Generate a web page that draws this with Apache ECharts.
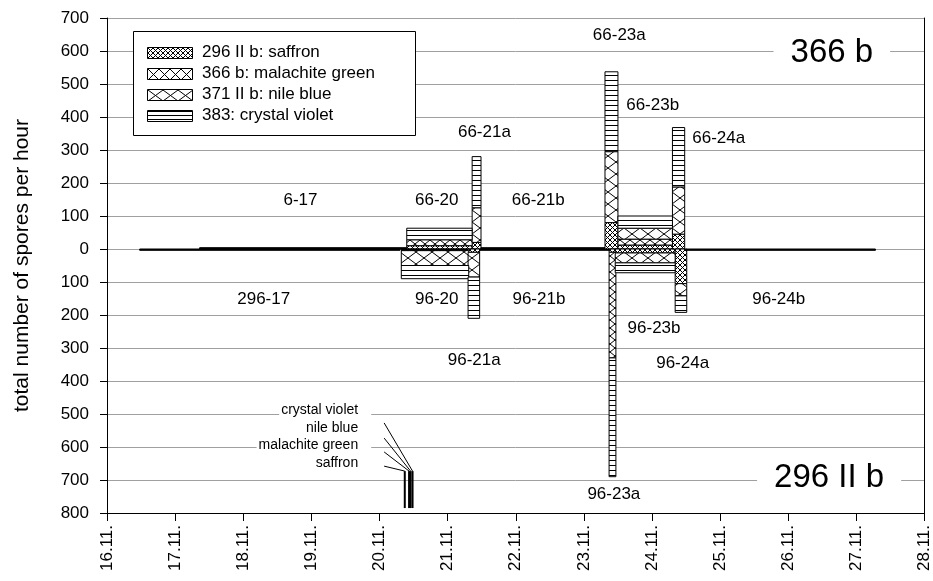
<!DOCTYPE html>
<html>
<head>
<meta charset="utf-8">
<script src="https://cdn.jsdelivr.net/npm/echarts@6/dist/echarts.min.js"></script>
<style>html,body{margin:0;padding:0;background:#fff}#c{width:933px;height:581px}</style>
</head>
<body>
<div id="c"></div>
<script>
// ---------- data ----------
const samples   = ['296-17','6-17','66-20','96-20','66-21a','96-21a','66-21b','96-21b','66-23a','96-23a','66-23b','96-23b','66-24a','96-24a','96-24b'];
const startDay  = [16.48, 17.36, 20.40, 20.32, 21.36, 21.30, 21.49, 21.47, 23.31, 23.37, 23.50, 23.46, 24.30, 24.34, 24.50];
const endDay    = [20.30, 20.40, 21.36, 21.31, 21.49, 21.47, 23.31, 23.37, 23.50, 23.47, 24.30, 24.34, 24.48, 24.51, 27.28];
// positive = 366 b (upper), negative = 296 II b (lower)
const saffron   = [-4, 4, 10,  -5,  20,  -10, 4, -4,  80,  -10, 12, -12,  45, -105, -4];
const malachite = [ 0, 0, 18,   0,   0,    0, 0,  0,   0, -320, 18,   0,   0,    0,  0];
const nileBlue  = [ 0, 0,  0, -45, 105,  -75, 0,  0, 215,    0, 33, -30, 143,  -37,  0];
const crystal   = [ 0, 0, 35, -40, 155, -125, 0,  0, 242, -360, 37, -30, 180,  -50,  0];

const dyeNames  = ['296 II b: saffron','366 b: malachite green','371 II b: nile blue','383: crystal violet'];

const yTicks = [-800,-700,-600,-500,-400,-300,-200,-100,0,100,200,300,400,500,600,700];
const xTickDays = [16,17,18,19,20,21,22,23,24,25,26,27,28];

// sample label positions (day, value)
const labelText  = ['6-17','296-17','66-20','96-20','66-21a','96-21a','66-21b','96-21b','66-23a','96-23a','66-23b','96-23b','66-24a','96-24a','96-24b'];
const labelDay   = [18.84, 18.30, 20.84, 20.84, 21.54, 21.39, 22.33, 22.34, 23.52, 23.44, 24.01, 24.03, 24.98, 24.45, 25.86];
const labelValue = [  148,  -152,   148,  -152,   355,  -336,   148,  -152,   648,  -742,   436,  -239,   336,  -345,  -152];

const titleText  = ['366 b','296 II b'];
const titleDay   = [26.64, 26.60];
const titleValue = [  594,  -694];

// annotation (dye application marks)
const annoText      = ['crystal violet','nile blue','malachite green','saffron'];
const annoTextDay   = 19.878;
const annoTextValue = [-489, -543, -595, -648];
const annoLineStart = [-527, -573, -615, -658];
const annoLineDay   = [20.485, 20.456, 20.434, 20.371];
const annoLineTop   = -673;
const annoLineBottom= -785;
const annoStartDay  = 20.068;

// ---------- patterns ----------
function crossTile(w, h) {
  const c = document.createElement('canvas'); c.width = w; c.height = h;
  const g = c.getContext('2d');
  g.fillStyle = '#fff'; g.fillRect(0, 0, w, h);
  g.strokeStyle = '#000'; g.lineWidth = 1;
  g.beginPath();
  g.moveTo(0, 0); g.lineTo(w, h);
  g.moveTo(w, 0); g.lineTo(0, h);
  g.stroke();
  return {image: c, repeat: 'repeat'};
}
function lineTile(period) {
  const c = document.createElement('canvas'); c.width = 8; c.height = period;
  const g = c.getContext('2d');
  g.fillStyle = '#fff'; g.fillRect(0, 0, 8, period);
  g.fillStyle = '#000'; g.fillRect(0, 0, 8, 1);
  return {image: c, repeat: 'repeat'};
}
const barPatterns = [crossTile(5,5), crossTile(10,8), crossTile(16,12), lineTile(5)];

const FONT = '"Liberation Sans", Arial, sans-serif';

// ---------- series ----------
const dyes = [saffron, malachite, nileBlue, crystal];
const series = dyes.map((vals, k) => {
  const data = [];
  samples.forEach((s, i) => {
    const v = vals[i];
    if (!v) return;
    let base = 0;
    for (let j = 0; j < k; j++) base += dyes[j][i];
    data.push([startDay[i], endDay[i], base, base + v]);
  });
  return {
    type: 'custom', name: dyeNames[k], silent: true,
    encode: {x: [0, 1], y: [2, 3]},
    data: data,
    z: 3 + k,
    renderItem: function (params, api) {
      const a = api.coord([api.value(0), api.value(3)]);
      const b = api.coord([api.value(1), api.value(2)]);
      const h = Math.abs(b[1] - a[1]);
      return {
        type: 'rect',
        shape: {x: Math.min(a[0], b[0]), y: Math.min(a[1], b[1]),
                width: Math.abs(b[0] - a[0]), height: h},
        style: {fill: h < 3 ? '#000' : barPatterns[k], stroke: '#000', lineWidth: 1}
      };
    }
  };
});

series.push({
  type: 'custom', name: 'labels', silent: true, z: 10,
  encode: {x: 0, y: 1},
  data: labelDay.map((d, i) => [d, labelValue[i], i]),
  renderItem: function (params, api) {
    const p = api.coord([api.value(0), api.value(1)]);
    return {type: 'text', x: p[0], y: p[1],
      style: {text: labelText[api.value(2)], font: '17px ' + FONT, fill: '#000',
              align: 'center', verticalAlign: 'middle'}};
  }
});

series.push({
  type: 'custom', name: 'titles', silent: true, z: 10,
  encode: {x: 0, y: 1},
  data: titleDay.map((d, i) => [d, titleValue[i], i]),
  renderItem: function (params, api) {
    const p = api.coord([api.value(0), api.value(1)]);
    return {type: 'text', x: p[0], y: p[1],
      style: {text: titleText[api.value(2)], font: '33px ' + FONT, fill: '#000',
              align: 'center', verticalAlign: 'middle', backgroundColor: '#fff',
              padding: [2, 17, 2, 17]}};
  }
});

series.push({
  type: 'custom', name: 'annotation', silent: true, z: 10,
  encode: {x: 0, y: 1},
  data: [[annoTextDay, annoTextValue[0]]],
  renderItem: function (params, api) {
    const children = [];
    annoText.forEach((t, i) => {
      const p = api.coord([annoTextDay, annoTextValue[i]]);
      children.push({type: 'text', x: p[0], y: p[1],
        style: {text: t, font: '14px ' + FONT, fill: '#000', align: 'right',
                verticalAlign: 'middle', backgroundColor: '#fff', padding: [1, 13, 1, 2]}});
    });
    annoLineDay.forEach((d, i) => {
      const s = api.coord([annoStartDay, annoLineStart[i]]);
      const m = api.coord([d, annoLineTop]);
      const e = api.coord([d, annoLineBottom]);
      children.push({type: 'line', shape: {x1: s[0], y1: s[1], x2: m[0], y2: m[1]},
        style: {stroke: '#000', lineWidth: 1}});
      children.push({type: 'line', shape: {x1: m[0], y1: m[1], x2: e[0], y2: e[1]},
        style: {stroke: '#000', lineWidth: 2}});
    });
    return {type: 'group', children: children};
  }
});

// ---------- legend (graphic) ----------
const legendRows = [52, 73, 94, 115];
const legendPatterns = [crossTile(5,5), crossTile(11,11), crossTile(15,11), lineTile(4)];
legendPatterns.forEach((p, i) => { p.x = 148; p.y = Math.round(legendRows[i] - 5.5) + 1; });
const graphic = [{type: 'rect', z: 100, shape: {x: 133.5, y: 31.5, width: 282, height: 104},
                  style: {fill: '#fff', stroke: '#000', lineWidth: 1}}];
legendRows.forEach((cy, i) => {
  const top = Math.round(cy - 5.5);
  graphic.push({type: 'rect', z: 101, shape: {x: 147.5, y: top + 0.5, width: 45, height: 11},
    style: {fill: legendPatterns[i], stroke: '#000', lineWidth: 1}});
  graphic.push({type: 'text', z: 101, x: 202, y: cy,
    style: {text: dyeNames[i], font: '17px ' + FONT, fill: '#000', verticalAlign: 'middle'}});
});

const chart = echarts.init(document.getElementById('c'), null, {renderer: 'canvas'});
chart.setOption({
  animation: false,
  backgroundColor: '#fff',
  grid: {left: 107, right: 6, top: 18, bottom: 68, containLabel: false},
  xAxis: {
    type: 'value', min: 16, max: 28, interval: 1,
    axisLine: {show: true, onZero: false, lineStyle: {color: '#000', width: 1}},
    axisTick: {show: true, length: 8, lineStyle: {color: '#000'}},
    splitLine: {show: false},
    axisLabel: {rotate: 90, margin: 12, color: '#000', fontSize: 17, fontFamily: FONT,
                formatter: v => xTickDays.indexOf(v) >= 0 ? v + '.11.' : ''}
  },
  yAxis: [{
    type: 'value', min: -800, max: 700, interval: 100,
    name: 'total number of spores per hour', nameLocation: 'middle', nameGap: 74,
    nameTextStyle: {color: '#000', fontSize: 21, fontFamily: FONT},
    axisLine: {show: true, lineStyle: {color: '#000', width: 1}},
    axisTick: {show: true, length: 7, lineStyle: {color: '#000'}},
    splitLine: {show: true, lineStyle: {color: '#a0a0a0', width: 1}},
    axisLabel: {margin: 18, color: '#000', fontSize: 17, fontFamily: FONT,
                formatter: v => yTicks.indexOf(v) >= 0 ? String(Math.abs(v)) : ''}
  }, {
    type: 'value', min: -800, max: 700, interval: 100, position: 'right',
    axisLine: {show: true, lineStyle: {color: '#000', width: 1}},
    axisTick: {show: false}, axisLabel: {show: false}, splitLine: {show: false}
  }],
  graphic: graphic,
  series: series
});
</script>
</body>
</html>
